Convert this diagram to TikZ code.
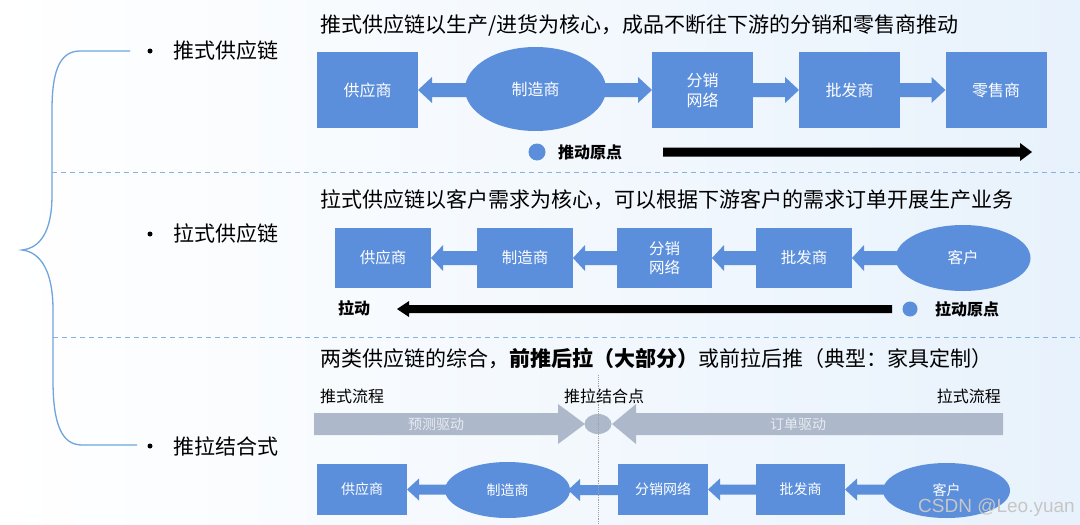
\documentclass[tikz,border=0pt]{standalone}
\usepackage{fontspec}
\setmainfont{Noto Sans CJK SC}
\newfontfamily\wmfont{Liberation Sans}
\usetikzlibrary{shapes.geometric,calc}
\definecolor{boxblue}{HTML}{5B8FDC}
\definecolor{bracecol}{HTML}{6FA4DC}
\definecolor{bandgray}{HTML}{ADB9CA}
\definecolor{bgblue}{HTML}{E8F2FC}
\definecolor{bandtxt}{HTML}{E6EBF2}
\newcommand\blockarrow[6][boxblue]{%
  \fill[#1] let \p1=(#2), \p2=(#3) in
    (\x1,\y1) -- ({\x1+(#6)},{\y1+#5}) -- ({\x1+(#6)},{\y1+#4}) -- ({\x2},{\y1+#4}) --
    ({\x2},{\y1-#4}) -- ({\x1+(#6)},{\y1-#4}) -- ({\x1+(#6)},{\y1-#5}) -- cycle;}
\begin{document}
\begin{tikzpicture}[x=1pt,y=-1pt,
  box/.style={rectangle, fill=boxblue, text=white, inner sep=0pt, outer sep=0pt, align=center},
  ell/.style={ellipse, fill=boxblue, text=white, inner sep=0pt, outer sep=0pt, align=center},
  fa/.style={font=\fontsize{16}{20}\selectfont},
  fb/.style={font=\fontsize{15.5}{19}\selectfont},
  fc/.style={font=\fontsize{14}{17}\selectfont},
  title/.style={anchor=west, inner sep=0pt, font=\fontsize{21}{25}\selectfont},
  side/.style={anchor=west, inner sep=0pt, font=\fontsize{21}{25}\selectfont},
  legend/.style={inner sep=0pt, font=\fontsize{16}{19}\selectfont\bfseries},
  flow/.style={inner sep=0pt, font=\fontsize{16}{19}\selectfont},
  bandlabel/.style={inner sep=0pt, text=bandtxt, font=\fontsize{14}{17}\selectfont},
  sep/.style={bracecol!85, dashed, dash pattern=on 5pt off 4pt, line width=0.9pt},
  bullet/.style={circle, fill=black, inner sep=0pt, minimum size=5pt}]
\fill[left color=white, right color=bgblue] (0,0) rectangle (1080,525);
\useasboundingbox (0,0) rectangle (1080,525);

% brace
\draw[bracecol, line width=1.3pt]
  (130,51) -- (80,51) .. controls (58,51) and (52,75) .. (52,110) -- (52,195)
  .. controls (52,232) and (40,248) .. (22,250)
  .. controls (40,252) and (53,270) .. (53,310) -- (53,380)
  .. controls (53,425) and (62,445) .. (82,445) -- (137,445);
\draw[sep] (52,172) -- (1080,172);
\draw[sep] (53,337) -- (1080,337);

% side labels
\node[bullet] (b1) at (150,51) {};
\node[side] (l1) at (173,51) {推式供应链};
\node[bullet] (b2) at (150,234) {};
\node[side] (l2) at (173,234) {拉式供应链};
\node[bullet] (b3) at (150,446) {};
\node[side] (l3) at (173,446) {推拉结合式};

% ---------- section 1 ----------
\node[title] (t1) at (320,25) {推式供应链以生产/进货为核心，成品不断往下游的分销和零售商推动};
\node[box, fa, minimum width=101pt, minimum height=76pt] (s1) at (367.5,90) {供应商};
\node[ell, fa, minimum width=141pt, minimum height=84pt] (m1) at (535.5,89) {制造商};
\node[box, fa, minimum width=101pt, minimum height=76pt] (d1) at (702.5,90) {分销\\网络};
\node[box, fa, minimum width=101pt, minimum height=76pt] (w1) at (849.5,90) {批发商};
\node[box, fa, minimum width=101pt, minimum height=76pt] (r1) at (996,90) {零售商};
\blockarrow{s1.east}{[xshift=8pt]m1.west}{7pt}{13pt}{14pt}
\blockarrow{d1.west}{[xshift=-8pt]m1.east}{7pt}{13pt}{-14pt}
\blockarrow{w1.west}{d1.east}{7pt}{13pt}{-14pt}
\blockarrow{r1.west}{w1.east}{7pt}{13pt}{-14pt}
\node[circle, fill=boxblue, inner sep=0pt, minimum size=17pt] (o1) at (537,152) {};
\node[legend, anchor=west] (ol1) at (558,152) {推动原点};
\coordinate (pa) at (663,152);
\coordinate (pb) at (1032,152);
\blockarrow[black]{pb}{pa}{4.5pt}{9pt}{-12pt}

% ---------- section 2 ----------
\node[title] (t2) at (320,200) {拉式供应链以客户需求为核心，可以根据下游客户的需求订单开展生产业务};
\node[box, fb, minimum width=96pt, minimum height=60pt] (s2) at (383,258) {供应商};
\node[box, fb, minimum width=96pt, minimum height=60pt] (m2) at (525,258) {制造商};
\node[box, fb, minimum width=95pt, minimum height=60pt] (d2) at (664.5,258) {分销\\网络};
\node[box, fb, minimum width=96pt, minimum height=60pt] (w2) at (804,258) {批发商};
\node[ell, fb, minimum width=135pt, minimum height=66pt] (c2) at (963,258) {客户};
\blockarrow{s2.east}{m2.west}{7pt}{13pt}{12pt}
\blockarrow{m2.east}{d2.west}{7pt}{13pt}{12pt}
\blockarrow{d2.east}{w2.west}{7pt}{13pt}{12pt}
\blockarrow{w2.east}{[xshift=8pt]c2.west}{7pt}{13pt}{12pt}
\node[legend] (pl) at (354,308) {拉动};
\coordinate (qa) at (892,309);
\coordinate (qb) at (397,309);
\blockarrow[black]{qb}{qa}{4pt}{8pt}{12pt}
\node[circle, fill=boxblue, inner sep=0pt, minimum size=15pt] (o2) at (910,309) {};
\node[legend, anchor=west] (ol2) at (935,309) {拉动原点};

% ---------- section 3 ----------
\node[title] (t3) at (320,358) {两类供应链的综合，{\bfseries 前推后拉（大部分）}或前拉后推（典型：家具定制）};
\node[flow, anchor=west] (f1) at (320,396) {推式流程};
\node[flow] (f2) at (604,396) {推拉结合点};
\node[flow, anchor=east] (f3) at (1001,396) {拉式流程};
\fill[bandgray] (314,413) -- (558,413) -- (558,404) -- (585,424) -- (558,444) -- (558,435) -- (314,435) -- cycle;
\fill[bandgray] (1003,413) -- (636,413) -- (636,404) -- (612,424) -- (636,444) -- (636,435) -- (1003,435) -- cycle;
\node[ellipse, fill=bandgray, inner sep=0pt, minimum width=27pt, minimum height=20pt] (jp) at (598,424) {};
\node[bandlabel] (g1) at (436,424) {预测驱动};
\node[bandlabel] (g2) at (798,424) {订单驱动};

\node[box, fc, minimum width=90pt, minimum height=51pt] (s3) at (362,489.5) {供应商};
\node[ell, fc, minimum width=125pt, minimum height=56pt] (m3) at (507.5,490) {制造商};
\node[box, fc, minimum width=90pt, minimum height=51pt] (d3) at (663,489.5) {分销网络};
\node[box, fc, minimum width=89pt, minimum height=51pt] (w3) at (800.5,489.5) {批发商};
\node[ell, fc, minimum width=127pt, minimum height=55pt] (c3) at (946.5,490.5) {客户};
\blockarrow{s3.east}{[xshift=8pt]m3.west}{5pt}{11pt}{12pt}
\blockarrow{[xshift=-2pt]m3.east}{d3.west}{5pt}{11pt}{12pt}
\blockarrow{d3.east}{w3.west}{5pt}{11pt}{12pt}
\blockarrow{w3.east}{[xshift=8pt]c3.west}{5pt}{11pt}{12pt}

\draw[gray!75, densely dotted, line width=0.9pt] (598,375) -- (598,525);

\node[anchor=east, inner sep=0pt, text=gray!45, font=\wmfont\fontsize{19}{22}\selectfont] (wm) at (1075,508) {CSDN @Leo.yuan};
\end{tikzpicture}
\end{document}
